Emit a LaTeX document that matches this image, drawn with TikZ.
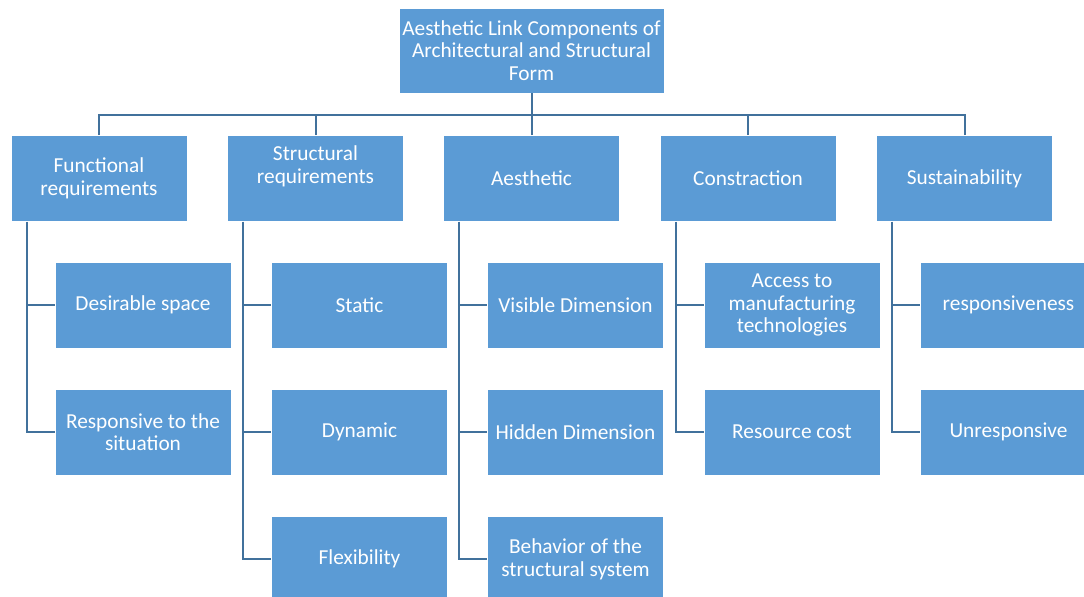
\documentclass[tikz,border=0pt]{standalone}
\usepackage{fontspec}
\setmainfont{Carlito}
\usepackage{tikz}
\usetikzlibrary{positioning}
\definecolor{boxblue}{HTML}{5B9BD5}
\definecolor{linkblue}{HTML}{41719C}

\begin{document}
\begin{tikzpicture}[
    x=0.75pt, y=-0.75pt,
    font=\fontsize{16}{17}\selectfont,
    % Node styles:
    topbox/.style={rectangle, draw=white, fill=boxblue, text=white, align=center,
                   minimum width=198.75pt, minimum height=63.75pt, inner sep=1pt},
    block/.style={rectangle, draw=white, fill=boxblue, text=white, align=center,
                  minimum width=132pt, minimum height=64.5pt, inner sep=1pt},
    % Connector style:
    link/.style={draw=linkblue, line width=1.5pt},
]
\useasboundingbox (0,0) rectangle (1084,596);
\clip (0,0) rectangle (1084,596);

% --- TOP NODE ---
\node[topbox] (root) at (531.5,50.5)
      {Aesthetic Link Components of\\Architectural and Structural\\Form};

% --- MAIN BRANCHES ---
\node[block] (func)  at (99,178.5)    {Functional\\requirements};
\node[block] (struc) at (315.5,178.5) {Structural\\requirements\\[4pt]\mbox{}};
\node[block] (aest)  at (531.5,178.5) {Aesthetic};
\node[block] (cons)  at (748,178.5)   {Constraction};
\node[block] (sust)  at (964.5,178.5) {Sustainability};

% --- SUB ITEMS ---
\node[block] (desire) at (143,305)   {Desirable space};
\node[block] (resp)   at (143,432)   {Responsive to the\\situation};
\node[block] (static) at (359.5,305) {Static};
\node[block] (dyn)    at (359.5,432) {Dynamic};
\node[block] (flex)   at (359.5,559) {Flexibility};
\node[block] (vis)    at (575.5,305) {Visible Dimension};
\node[block] (hid)    at (575.5,432) {Hidden Dimension};
\node[block] (behav)  at (575.5,559) {Behavior of the\\structural system};
\node[block] (access) at (792,305)   {Access to\\manufacturing\\technologies};
\node[block] (cost)   at (792,432)   {Resource cost};
\node[block] (respv)  at (1008.5,305) {responsiveness};
\node[block] (unresp) at (1008.5,432) {Unresponsive};

% --- CONNECTORS ---
% Bus under the top node
\coordinate (bus) at (531.5,115);
\draw[link] (root.south) -- (bus);
\draw[link] (func.north)  |- (bus);
\draw[link] (struc.north) |- (bus);
\draw[link] (aest.north)  -- (bus);
\draw[link] (cons.north)  |- (bus);
\draw[link] (sust.north)  |- (bus);

% Elbows from each branch down to its items
\draw[link] ([xshift=12pt]func.south west) |- (desire.west);
\draw[link] ([xshift=12pt]func.south west) |- (resp.west);
\draw[link] ([xshift=12pt]struc.south west) |- (static.west);
\draw[link] ([xshift=12pt]struc.south west) |- (dyn.west);
\draw[link] ([xshift=12pt]struc.south west) |- (flex.west);
\draw[link] ([xshift=12pt]aest.south west) |- (vis.west);
\draw[link] ([xshift=12pt]aest.south west) |- (hid.west);
\draw[link] ([xshift=12pt]aest.south west) |- (behav.west);
\draw[link] ([xshift=12pt]cons.south west) |- (access.west);
\draw[link] ([xshift=12pt]cons.south west) |- (cost.west);
\draw[link] ([xshift=12pt]sust.south west) |- (respv.west);
\draw[link] ([xshift=12pt]sust.south west) |- (unresp.west);

\end{tikzpicture}
\end{document}
